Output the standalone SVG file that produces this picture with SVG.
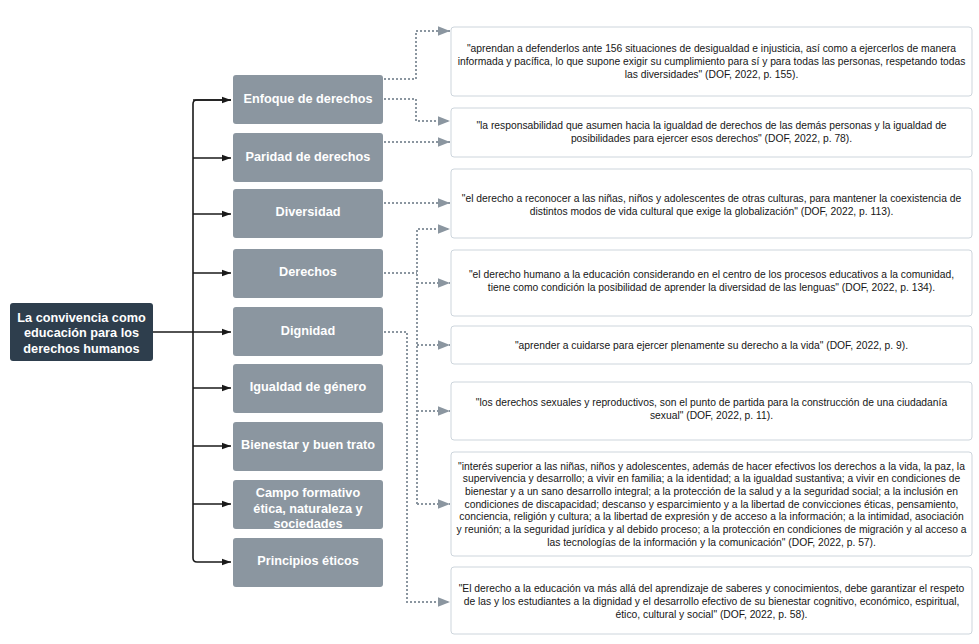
<svg xmlns="http://www.w3.org/2000/svg" width="979" height="644" viewBox="0 0 979 644">
<defs>
<style>
.root{fill:#2e3e4d}
.node{fill:#8b96a0}
.lbl{font-family:"Liberation Sans",Arial,sans-serif;font-weight:bold;font-size:12.7px;fill:#ffffff;text-anchor:middle}
.box{fill:#ffffff;stroke:#cdd5dc;stroke-width:1}
.q{font-family:"Liberation Sans",Arial,sans-serif;font-size:10.3px;fill:#161616;text-anchor:middle}
.solid{fill:none;stroke:#1a1a1a;stroke-width:1.6}
.dot{fill:none;stroke:#8b96a0;stroke-width:2;stroke-dasharray:2 2}
</style>
<marker id="ab" markerWidth="10" markerHeight="8" refX="9" refY="4" orient="auto" markerUnits="userSpaceOnUse">
<path d="M0,0.8 L9,4 L0,7.2 Z" fill="#1a1a1a"/>
</marker>
<marker id="ag" markerWidth="13" markerHeight="10" refX="12" refY="5" orient="auto" markerUnits="userSpaceOnUse">
<path d="M0,0.3 L12,5 L0,9.7 Z" fill="#8b96a0"/>
</marker>
</defs>

<g id="connectors">
<path class="solid" d="M153,332 H231" marker-end="url(#ab)"/>
<path class="solid" d="M231,100 H197 Q193,100 193,104 V558 Q193,562 197,562 H231" marker-end="url(#ab)"/>
<path class="solid" d="M193,158 H231" marker-end="url(#ab)"/>
<path class="solid" d="M193,214 H231" marker-end="url(#ab)"/>
<path class="solid" d="M193,273 H231" marker-end="url(#ab)"/>
<path class="solid" d="M193,388 H231" marker-end="url(#ab)"/>
<path class="solid" d="M193,446 H231" marker-end="url(#ab)"/>
<path class="solid" d="M193,504 H231" marker-end="url(#ab)"/>
<path class="solid" d="M193,100 H231" marker-end="url(#ab)"/>

<path class="dot" d="M384,79 H416 V31 H450" marker-end="url(#ag)"/>
<path class="dot" d="M384,99 H416 V121 H450" marker-end="url(#ag)"/>
<path class="dot" d="M384,142 H450" marker-end="url(#ag)"/>
<path class="dot" d="M384,203 H450" marker-end="url(#ag)"/>
<path class="dot" d="M384,273 H417"/>
<path class="dot" d="M417,504 V229 H450" marker-end="url(#ag)"/>
<path class="dot" d="M417,283 H450" marker-end="url(#ag)"/>
<path class="dot" d="M417,345 H450" marker-end="url(#ag)"/>
<path class="dot" d="M417,411 H450" marker-end="url(#ag)"/>
<path class="dot" d="M417,504 H450" marker-end="url(#ag)"/>
<path class="dot" d="M384,332 H407 V602 H450" marker-end="url(#ag)"/>
</g>

<g id="root">
<rect class="root" x="10" y="303" width="143" height="58" rx="3"/>
<text class="lbl" x="81.5" y="321.5">La convivencia como</text>
<text class="lbl" x="81.5" y="337">educación para los</text>
<text class="lbl" x="81.5" y="352.5">derechos humanos</text>
</g>

<g id="n-enfoque">
<rect class="node" x="233" y="75" width="150" height="49" rx="3"/>
<text class="lbl" x="308" y="102.5">Enfoque de derechos</text>
</g>
<g id="n-paridad">
<rect class="node" x="233" y="133" width="150" height="49" rx="3"/>
<text class="lbl" x="308" y="160.5">Paridad de derechos</text>
</g>
<g id="n-diversidad">
<rect class="node" x="233" y="189" width="150" height="49" rx="3"/>
<text class="lbl" x="308" y="216">Diversidad</text>
</g>
<g id="n-derechos">
<rect class="node" x="233" y="249" width="150" height="49" rx="3"/>
<text class="lbl" x="308" y="275.5">Derechos</text>
</g>
<g id="n-dignidad">
<rect class="node" x="233" y="307" width="150" height="49" rx="3"/>
<text class="lbl" x="308" y="334.5">Dignidad</text>
</g>
<g id="n-igualdad">
<rect class="node" x="233" y="364" width="150" height="49" rx="3"/>
<text class="lbl" x="308" y="391">Igualdad de género</text>
</g>
<g id="n-bienestar">
<rect class="node" x="233" y="422" width="150" height="49" rx="3"/>
<text class="lbl" x="308" y="448.5">Bienestar y buen trato</text>
</g>
<g id="n-campo">
<rect class="node" x="233" y="480" width="150" height="49" rx="3"/>
<text class="lbl" x="308" y="497">Campo formativo</text>
<text class="lbl" x="308" y="512.5">ética, naturaleza y</text>
<text class="lbl" x="308" y="528">sociedades</text>
</g>
<g id="n-principios">
<rect class="node" x="233" y="538" width="150" height="49" rx="3"/>
<text class="lbl" x="308" y="564.5">Principios éticos</text>
</g>

<g id="q1">
<rect class="box" x="451" y="27" width="521" height="69" rx="3"/>
<text class="q" x="711.5" y="51.5">"aprendan a defenderlos ante 156 situaciones de desigualdad e injusticia, así como a ejercerlos de manera</text>
<text class="q" x="711.5" y="64.8">informada y pacífica, lo que supone exigir su cumplimiento para sí y para todas las personas, respetando todas</text>
<text class="q" x="711.5" y="78.1">las diversidades" (DOF, 2022, p. 155).</text>
</g>
<g id="q2">
<rect class="box" x="451" y="108" width="521" height="49" rx="3"/>
<text class="q" x="711.5" y="128.8">"la responsabilidad que asumen hacia la igualdad de derechos de las demás personas y la igualdad de</text>
<text class="q" x="711.5" y="142.1">posibilidades para ejercer esos derechos" (DOF, 2022, p. 78).</text>
</g>
<g id="q3">
<rect class="box" x="451" y="169" width="521" height="69" rx="3"/>
<text class="q" x="711.5" y="201.5">"el derecho a reconocer a las niñas, niños y adolescentes de otras culturas, para mantener la coexistencia de</text>
<text class="q" x="711.5" y="214.8">distintos modos de vida cultural que exige la globalización" (DOF, 2022, p. 113).</text>
</g>
<g id="q4">
<rect class="box" x="451" y="250" width="521" height="66" rx="3"/>
<text class="q" x="711.5" y="277.5">"el derecho humano a la educación considerando en el centro de los procesos educativos a la comunidad,</text>
<text class="q" x="711.5" y="290.8">tiene como condición la posibilidad de aprender la diversidad de las lenguas" (DOF, 2022, p. 134).</text>
</g>
<g id="q5">
<rect class="box" x="451" y="326" width="521" height="38" rx="3"/>
<text class="q" x="711.5" y="348.5">"aprender a cuidarse para ejercer plenamente su derecho a la vida" (DOF, 2022, p. 9).</text>
</g>
<g id="q6">
<rect class="box" x="451" y="382" width="521" height="58" rx="3"/>
<text class="q" x="711.5" y="406">"los derechos sexuales y reproductivos, son el punto de partida para la construcción de una  ciudadanía</text>
<text class="q" x="711.5" y="419.3">sexual"  (DOF, 2022, p. 11).</text>
</g>
<g id="q7">
<rect class="box" x="451" y="452" width="521" height="104" rx="3"/>
<text class="q" x="711.5" y="469.5">"interés superior a las niñas, niños y adolescentes, además de hacer efectivos los derechos a la vida, la paz, la</text>
<text class="q" x="711.5" y="482.2">supervivencia y desarrollo; a vivir en familia; a la identidad; a la igualdad sustantiva; a vivir en condiciones de</text>
<text class="q" x="711.5" y="494.9">bienestar y a un sano desarrollo integral; a la protección de la salud y a la seguridad social; a la inclusión en</text>
<text class="q" x="711.5" y="507.6">condiciones de discapacidad; descanso y esparcimiento y a la libertad de convicciones éticas, pensamiento,</text>
<text class="q" x="711.5" y="520.3">conciencia, religión y cultura; a la libertad de expresión y de acceso a la información; a la intimidad, asociación</text>
<text class="q" x="711.5" y="533">y reunión; a la seguridad jurídica y al debido proceso; a la protección en condiciones de migración y al acceso a</text>
<text class="q" x="711.5" y="545.7">las tecnologías de la información y la comunicación" (DOF, 2022, p. 57).</text>
</g>
<g id="q8">
<rect class="box" x="451" y="567" width="521" height="67" rx="3"/>
<text class="q" x="711.5" y="591.5">"El derecho a la educación va más allá del aprendizaje de saberes y conocimientos, debe garantizar el respeto</text>
<text class="q" x="711.5" y="604.8">de las y los estudiantes a la dignidad y el desarrollo efectivo de su bienestar cognitivo, económico, espiritual,</text>
<text class="q" x="711.5" y="618.1">ético, cultural y social" (DOF, 2022, p. 58).</text>
</g>
</svg>
